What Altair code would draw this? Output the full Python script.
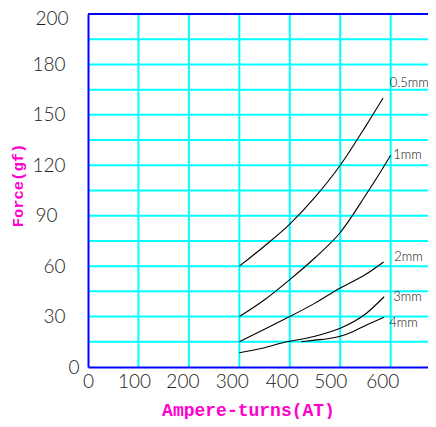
import altair as alt
import pandas as pd

# ---- data ----
series = ["0.5mm", "1mm", "2mm", "3mm", "4mm"]
x_05 = [300, 350, 400, 450, 500, 550, 585]
y_05 = [60, 72, 85, 101, 120, 143, 160]
x_1 = [300, 350, 400, 450, 500, 550, 588, 600]
y_1 = [30, 40, 52, 65, 80, 102, 120, 126]
x_2 = [300, 350, 400, 450, 500, 550, 586]
y_2 = [15, 22.5, 30, 38, 47, 55, 62.5]
x_3 = [300, 350, 380, 450, 500, 550, 587]
y_3 = [8.5, 11.5, 14, 18.3, 23, 31.5, 41.8]
x_4 = [423, 450, 475, 500, 525, 548, 587]
y_4 = [15, 16, 16.8, 18.3, 21, 24.4, 29.6]
label_x = [598, 605, 607, 605, 597]
label_y = [169, 126, 65.4, 41.6, 26.2]

x_ticks = [0, 100, 200, 300, 400, 500, 600]
y_ticks = list(range(0, 211, 15))
x_grid = [100, 200, 300, 400, 500, 600]
y_grid = list(range(15, 210, 15))

xs = [x_05, x_1, x_2, x_3, x_4]
ys = [y_05, y_1, y_2, y_3, y_4]
rows = []
for s, xx, yy in zip(series, xs, ys):
    for a, b in zip(xx, yy):
        rows.append({"s": s, "x": a, "y": b})
df = pd.DataFrame(rows)
lab = pd.DataFrame({"s": series, "x": label_x, "y": label_y})
top = pd.DataFrame({"y": [210]})
xg = pd.DataFrame({"x": x_grid})
yg = pd.DataFrame({"y": y_grid})

XT = "Ampere-turns(AT)"
YT = "Force(gf)"
xscale = alt.Scale(domain=[0, 674], nice=False, zero=False)
yscale = alt.Scale(domain=[0, 210], nice=False)

x_off = {"condition": [
    {"test": "datum.value === 100", "value": -4.5},
    {"test": "datum.value === 200", "value": -6.5},
    {"test": "datum.value === 300", "value": -7.5},
    {"test": "datum.value === 400", "value": -8},
    {"test": "datum.value === 500", "value": -10},
    {"test": "datum.value === 600", "value": -8.5},
], "value": 0}
y_pad = {"condition": [
    {"test": "datum.value === 0", "value": 9},
    {"test": "datum.value === 90", "value": 31},
    {"test": "datum.value === 210", "value": 20},
], "value": 23}
y_off = {"condition": [
    {"test": "datum.value === 210", "value": 4},
], "value": 0}

LF = "Lato"
xaxis = alt.Axis(values=x_ticks, grid=False,
                 domainColor="#0000FF", domainWidth=2, ticks=False, zindex=1,
                 labelFont=LF, labelFontWeight=300, labelFontSize=19, labelColor="#222222",
                 labelPadding=5, labelFlush=False, labelOverlap=False,
                 labelOffset=x_off,
                 title=XT, titleFont="Liberation Mono", titleFontSize=18,
                 titleFontWeight="bold", titleColor="#FF00CC",
                 titleX=160, titleY=48, titleAlign="center",
                 titleBaseline="alphabetic")
yaxis = alt.Axis(values=y_ticks, grid=False,
                 domainColor="#0000FF", domainWidth=2, ticks=False, zindex=1,
                 labelFont=LF, labelFontWeight=300, labelFontSize=19, labelColor="#222222",
                 labelPadding=y_pad, labelOffset=y_off,
                 labelOverlap=False, labelFlush=False,
                 labelExpr="datum.value % 30 === 0 ? (datum.value === 210 ? '200' : datum.label) : ''",
                 title=YT, titleFont="Liberation Mono", titleFontSize=15.5,
                 titleFontWeight="bold", titleColor="#FF00CC",
                 titleAngle=-90, titleX=-71, titleY=171, titleAlign="center",
                 titleBaseline="middle")

vgrid = alt.Chart(xg).mark_rule(color="#00FFFF", strokeWidth=2).encode(
    x=alt.X("x:Q", scale=xscale, axis=xaxis, title=XT),
)
hgrid = alt.Chart(yg).mark_rule(color="#00FFFF", strokeWidth=2).encode(
    y=alt.Y("y:Q", scale=yscale, axis=yaxis, title=YT),
)

lines = alt.Chart(df).mark_line(color="black", strokeWidth=1.1,
                                interpolate="monotone").encode(
    x=alt.X("x:Q", scale=xscale, title=XT),
    y=alt.Y("y:Q", scale=yscale, title=YT),
    detail="s:N",
)

texts = alt.Chart(lab).mark_text(align="left", baseline="middle",
                                 font=LF, fontWeight=300, fontSize=13,
                                 color="#111111").encode(
    x=alt.X("x:Q", scale=xscale, title=XT),
    y=alt.Y("y:Q", scale=yscale, title=YT),
    text="s:N",
)

toprule = alt.Chart(top).mark_rule(color="#0000FF", strokeWidth=2).encode(
    y=alt.Y("y:Q", scale=yscale, title=YT),
)

chart = alt.layer(vgrid, hgrid, lines, texts, toprule).properties(
    width=340, height=353,
    autosize=alt.AutoSizeParams(type="none"),
    padding={"left": 80, "top": 6, "right": 0, "bottom": 52},
).configure_view(stroke=None)

chart.save("out.html", embed_options={"renderer": "svg", "actions": False})
